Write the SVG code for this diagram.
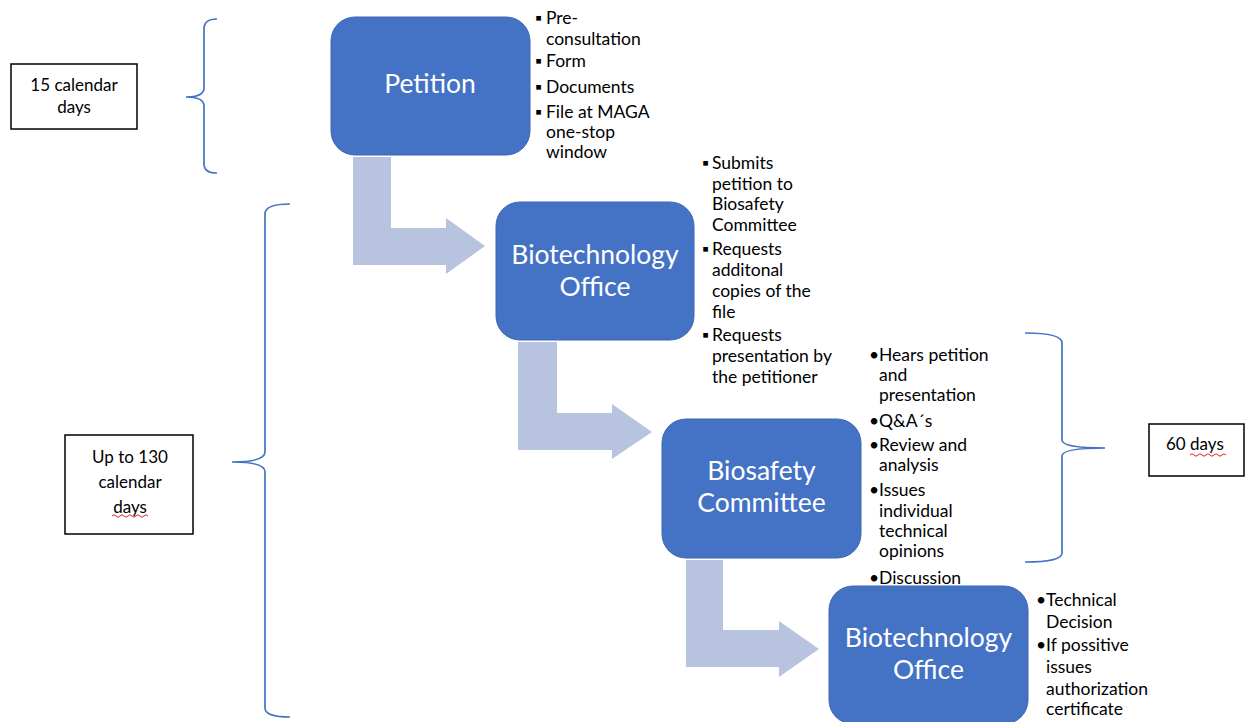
<svg xmlns="http://www.w3.org/2000/svg" width="1246" height="722" viewBox="0 0 1246 722">
<style>
.node{fill:#4472C4;stroke:#3D67B3;stroke-width:1}
.title{font-family:Lato,"Liberation Sans",sans-serif;font-size:26.5px;fill:#FFFFFF;text-anchor:middle}
.b{font-family:Lato,"Liberation Sans",sans-serif;font-size:17.5px;fill:#000000}
.box{fill:#FFFFFF;stroke:#000000;stroke-width:1.5}
.bt{font-family:Lato,"Liberation Sans",sans-serif;font-size:17px;fill:#000000}
.brace{fill:none;stroke:#4472C4;stroke-width:1.7}
.arrow{fill:#B8C3E0}
.sq{fill:none;stroke:#E02020;stroke-width:1}
</style>
<rect width="1246" height="722" fill="#FFFFFF"/>
<g id="connectors">
<polygon class="arrow" points="353,157 391,157 391,228 446,228 446,218 485,246 446,274 446,265 353,265"/>
<polygon class="arrow" points="518,342 557,342 557,413 612,413 612,404 652,432 612,459 612,450 518,450"/>
<polygon class="arrow" points="686,560 723,560 723,630 779,630 779,621 819,649 779,677 779,667 686,667"/>
</g>
<g id="brace-15">
<path class="brace" d="M217,19 Q204,19 204,29 L204,88 Q204,97 186,97 Q204,97 204,106 L204,164 Q204,173 217,173"/>
</g>
<g id="brace-130">
<path class="brace" d="M290,204 Q265,204 265,214 L265,452 Q265,462 232,462 Q265,462 265,472 L265,708 Q265,717 290,717"/>
</g>
<g id="brace-60">
<path class="brace" d="M1025,333 Q1062,333 1062,343 L1062,440 Q1062,448 1105,448 Q1062,448 1062,456 L1062,553 Q1062,562 1025,562"/>
</g>
<g id="box-15">
<rect class="box" x="11" y="64" width="126" height="65"/>
<text class="bt" x="74" y="91" text-anchor="middle">15 calendar</text>
<text class="bt" x="74" y="113" text-anchor="middle">days</text>
</g>
<g id="box-130">
<rect class="box" x="65" y="435" width="128" height="99"/>
<text class="bt" x="130" y="463" text-anchor="middle">Up to 130</text>
<text class="bt" x="130" y="488" text-anchor="middle">calendar</text>
<text class="bt" x="130" y="513" text-anchor="middle">days</text>
<path class="sq" d="M112,516 q2,-2.5 4,0 t4,0 t4,0 t4,0 t4,0 t4,0 t4,0 t4,0 t4,0"/>
</g>
<g id="box-60">
<rect class="box" x="1149" y="424" width="95" height="52"/>
<text class="bt" x="1166" y="450">60 days</text>
<path class="sq" d="M1190,455 q2,-2.5 4,0 t4,0 t4,0 t4,0 t4,0 t4,0 t4,0 t4,0 t4,0"/>
</g>
<g id="node-petition">
<rect class="node" x="331" y="17" width="199" height="138" rx="24"/>
<text class="title" x="430" y="93">Petition</text>
<text class="b" x="535" y="24">▪</text>
<text class="b" x="546" y="24">Pre-</text>
<text class="b" x="546" y="45">consultation</text>
<text class="b" x="535" y="67">▪</text>
<text class="b" x="546" y="67">Form</text>
<text class="b" x="535" y="93">▪</text>
<text class="b" x="546" y="93">Documents</text>
<text class="b" x="535" y="118">▪</text>
<text class="b" x="546" y="118">File at MAGA</text>
<text class="b" x="546" y="138">one-stop</text>
<text class="b" x="546" y="158">window</text>
</g>
<g id="node-biotech-1">
<rect class="node" x="496" y="202" width="198" height="138" rx="24"/>
<text class="title" x="595" y="264">Biotechnology</text>
<text class="title" x="595" y="296">Office</text>
<text class="b" x="702" y="169">▪</text>
<text class="b" x="712" y="169">Submits</text>
<text class="b" x="712" y="190">petition to</text>
<text class="b" x="712" y="210">Biosafety</text>
<text class="b" x="712" y="231">Committee</text>
<text class="b" x="702" y="255">▪</text>
<text class="b" x="712" y="255">Requests</text>
<text class="b" x="712" y="276">additonal</text>
<text class="b" x="712" y="297">copies of the</text>
<text class="b" x="712" y="318">file</text>
<text class="b" x="702" y="341">▪</text>
<text class="b" x="712" y="341">Requests</text>
<text class="b" x="712" y="362">presentation by</text>
<text class="b" x="712" y="383">the petitioner</text>
</g>
<g id="node-biosafety">
<rect class="node" x="662" y="419" width="199" height="139" rx="24"/>
<text class="title" x="761.5" y="480">Biosafety</text>
<text class="title" x="761.5" y="512">Committee</text>
<text class="b" x="869" y="361">•</text>
<text class="b" x="879" y="361">Hears petition</text>
<text class="b" x="879" y="381">and</text>
<text class="b" x="879" y="401">presentation</text>
<text class="b" x="869" y="427">•</text>
<text class="b" x="879" y="427">Q&amp;A´s</text>
<text class="b" x="869" y="451">•</text>
<text class="b" x="879" y="451">Review and</text>
<text class="b" x="879" y="471">analysis</text>
<text class="b" x="869" y="496">•</text>
<text class="b" x="879" y="496">Issues</text>
<text class="b" x="879" y="517">individual</text>
<text class="b" x="879" y="537">technical</text>
<text class="b" x="879" y="557">opinions</text>
<text class="b" x="869" y="584">•</text>
<text class="b" x="879" y="584">Discussion</text>
</g>
<g id="node-biotech-2">
<rect class="node" x="829" y="586" width="199" height="138" rx="24"/>
<text class="title" x="928.5" y="647">Biotechnology</text>
<text class="title" x="928.5" y="679">Office</text>
<text class="b" x="1036" y="606">•</text>
<text class="b" x="1046" y="606">Technical</text>
<text class="b" x="1046" y="628">Decision</text>
<text class="b" x="1036" y="651">•</text>
<text class="b" x="1046" y="651">If possitive</text>
<text class="b" x="1046" y="673">issues</text>
<text class="b" x="1046" y="695">authorization</text>
<text class="b" x="1046" y="715">certificate</text>
</g>
</svg>
